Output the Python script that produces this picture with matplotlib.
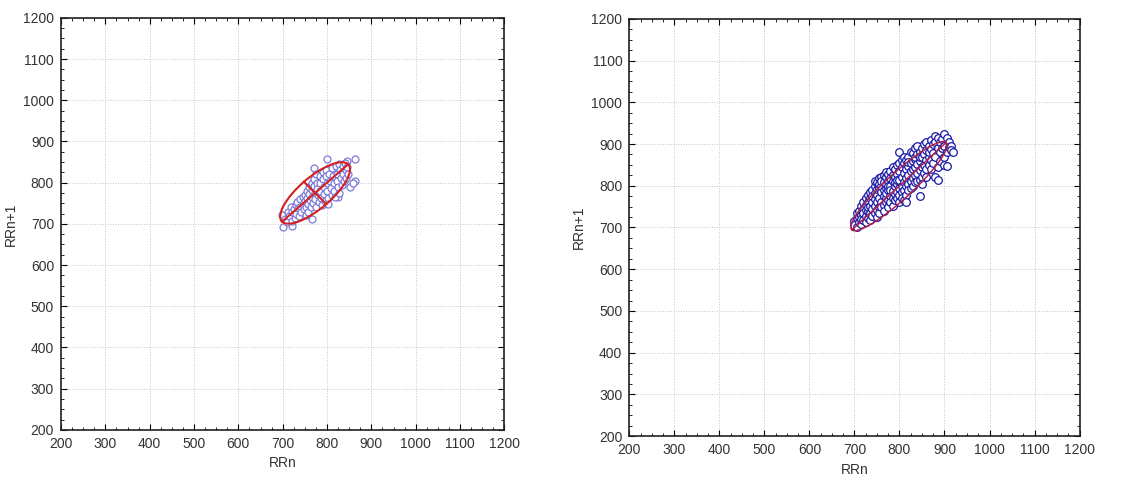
import numpy as np
import matplotlib

matplotlib.use("Agg")
import matplotlib.pyplot as plt
from matplotlib.patches import Ellipse
from matplotlib.ticker import MultipleLocator

plt.rcParams["font.family"] = ["Liberation Sans", "DejaVu Sans"]

# Poincare plot points (RRn, RRn+1)
left_points = [
    (698, 722), (700, 692), (722, 695), (800, 858), (862, 858), (862, 805),
    (852, 790), (858, 800), (845, 852), (770, 835), (765, 712), (825, 765),
    (705, 712), (710, 705), (712, 730), (715, 720), (718, 740), (720, 708),
    (722, 728), (725, 735), (727, 715), (730, 745), (730, 725), (733, 752),
    (735, 738), (737, 720), (740, 760), (740, 742), (742, 730), (745, 765),
    (745, 748), (747, 735), (750, 770), (750, 755), (752, 740), (753, 722),
    (755, 780), (755, 762), (757, 748), (758, 730), (760, 790), (760, 772),
    (762, 758), (763, 740), (765, 800), (765, 782), (767, 765), (768, 750),
    (770, 810), (770, 792), (772, 775), (773, 760), (775, 742), (776, 820),
    (777, 800), (778, 785), (780, 770), (781, 752), (783, 815), (784, 798),
    (785, 780), (787, 762), (788, 745), (790, 825), (790, 808), (792, 790),
    (793, 772), (795, 755), (797, 830), (798, 815), (799, 798), (800, 780),
    (802, 762), (803, 748), (805, 822), (806, 805), (808, 788), (810, 770),
    (812, 835), (813, 815), (815, 798), (816, 780), (818, 765), (820, 840),
    (822, 822), (823, 805), (825, 790), (827, 775), (828, 845), (830, 830),
    (832, 812), (833, 795), (835, 840), (837, 822), (838, 805), (840, 848),
    (842, 830), (843, 812), (845, 838), (848, 820),
]

right_points = [
    (700, 715), (700, 705), (705, 722), (705, 735), (705, 700), (710, 712),
    (710, 740), (710, 725), (715, 730), (715, 752), (715, 708), (715, 720),
    (720, 745), (720, 718), (720, 760), (720, 735), (725, 728), (725, 755),
    (725, 770), (725, 712), (725, 742), (730, 762), (730, 740), (730, 778),
    (730, 722), (730, 750), (735, 735), (735, 770), (735, 785), (735, 752),
    (735, 718), (740, 790), (740, 760), (740, 745), (740, 775), (740, 728),
    (745, 800), (745, 768), (745, 752), (745, 782), (745, 735), (745, 812),
    (750, 810), (750, 778), (750, 760), (750, 792), (750, 742), (750, 725),
    (755, 818), (755, 770), (755, 795), (755, 750), (755, 805), (755, 735),
    (760, 822), (760, 785), (760, 762), (760, 800), (760, 748), (760, 812),
    (765, 808), (765, 775), (765, 790), (765, 825), (765, 755), (765, 740),
    (770, 820), (770, 795), (770, 770), (770, 805), (770, 760), (770, 832),
    (770, 782), (775, 812), (775, 790), (775, 765), (775, 828), (775, 748),
    (775, 800), (780, 835), (780, 800), (780, 775), (780, 818), (780, 760),
    (780, 790), (785, 845), (785, 812), (785, 788), (785, 770), (785, 825),
    (785, 752), (790, 822), (790, 800), (790, 780), (790, 840), (790, 765),
    (790, 810), (795, 850), (795, 828), (795, 805), (795, 785), (795, 770),
    (795, 815), (800, 880), (800, 835), (800, 815), (800, 795), (800, 778),
    (800, 855), (800, 760), (805, 845), (805, 822), (805, 800), (805, 785),
    (805, 862), (805, 770), (810, 855), (810, 830), (810, 808), (810, 790),
    (810, 870), (810, 765), (815, 840), (815, 818), (815, 800), (815, 862),
    (815, 778), (815, 760), (820, 870), (820, 848), (820, 825), (820, 805),
    (820, 790), (820, 858), (825, 855), (825, 835), (825, 812), (825, 880),
    (825, 795), (830, 878), (830, 860), (830, 840), (830, 818), (830, 800),
    (835, 890), (835, 865), (835, 845), (835, 825), (835, 808), (835, 870),
    (840, 875), (840, 852), (840, 830), (840, 812), (840, 895), (845, 882),
    (845, 860), (845, 838), (845, 775), (845, 815), (845, 870), (850, 890),
    (850, 868), (850, 845), (850, 822), (850, 805), (855, 900), (855, 875),
    (855, 850), (855, 830), (860, 905), (860, 885), (860, 862), (860, 840),
    (860, 820), (865, 895), (865, 870), (865, 850), (865, 880), (870, 910),
    (870, 888), (870, 862), (870, 840), (875, 900), (875, 878), (875, 855),
    (880, 920), (880, 905), (880, 870), (880, 820), (885, 915), (885, 890),
    (885, 815), (885, 845), (890, 905), (890, 880), (890, 860), (895, 912),
    (895, 890), (900, 925), (900, 895), (900, 870), (900, 850), (905, 915),
    (905, 880), (905, 848), (910, 905), (910, 892), (915, 895), (915, 885),
    (920, 880),
]

# confidence ellipses: centre x, centre y, full width, full height, angle
left_ellipse = (773, 775, 204, 74, 43)
right_ellipse = (799, 799, 296, 60, 45)

ticks = [200, 300, 400, 500, 600, 700, 800, 900, 1000, 1100, 1200]

fig = plt.figure(figsize=(11.4, 4.83), dpi=100)
ax_left = fig.add_axes([0.0535, 0.110, 0.389, 0.853])
ax_right = fig.add_axes([0.552, 0.097, 0.395, 0.864])


def draw_panel(axis, points, ellipse, marker_color, marker_size, ellipse_color, ellipse_lw, cross):
    xs, ys = np.array(points).T
    axis.plot(xs, ys, linestyle="none", marker="o", markersize=marker_size,
              markerfacecolor="white", markeredgecolor=marker_color,
              markeredgewidth=0.9, zorder=3)
    cx, cy, width, height, angle = ellipse
    axis.add_patch(Ellipse((cx, cy), width, height, angle=angle, fill=False,
                           edgecolor=ellipse_color, linewidth=ellipse_lw, zorder=4))
    theta = np.radians(angle)
    major = np.array([np.cos(theta), np.sin(theta)]) * width / 2
    axis.plot([cx - major[0], cx + major[0]], [cy - major[1], cy + major[1]],
              color=ellipse_color, linewidth=ellipse_lw, zorder=4)
    if cross:
        minor = np.array([-np.sin(theta), np.cos(theta)]) * height / 2
        axis.plot([cx - minor[0], cx + minor[0]], [cy - minor[1], cy + minor[1]],
                  color=ellipse_color, linewidth=ellipse_lw, zorder=4)

    axis.set_xlim(200, 1200)
    axis.set_ylim(200, 1200)
    axis.set_xticks(ticks)
    axis.set_yticks(ticks)
    axis.xaxis.set_minor_locator(MultipleLocator(25))
    axis.yaxis.set_minor_locator(MultipleLocator(25))
    axis.tick_params(which="major", direction="in", length=4, width=0.8, pad=5,
                     labelsize=10, labelcolor="#333333", top=True, right=True)
    axis.tick_params(which="minor", direction="in", length=2, width=0.6,
                     top=True, right=True)
    axis.grid(True, which="major", linestyle=":", color="#c4c4c4", linewidth=0.7)
    axis.set_axisbelow(True)
    for spine in axis.spines.values():
        spine.set_linewidth(1.2)
        spine.set_color("#222222")
    axis.set_xlabel("RRn", fontsize=10, color="#333333")
    axis.set_ylabel("RRn+1", fontsize=10, color="#333333")


draw_panel(ax_left, left_points, left_ellipse, "#7a7ad8", 5.0, "#d42020", 1.5, True)
draw_panel(ax_right, right_points, right_ellipse, "#1a1aa8", 5.5, "#b02048", 1.1, False)

fig.savefig("out.png", dpi=100)
